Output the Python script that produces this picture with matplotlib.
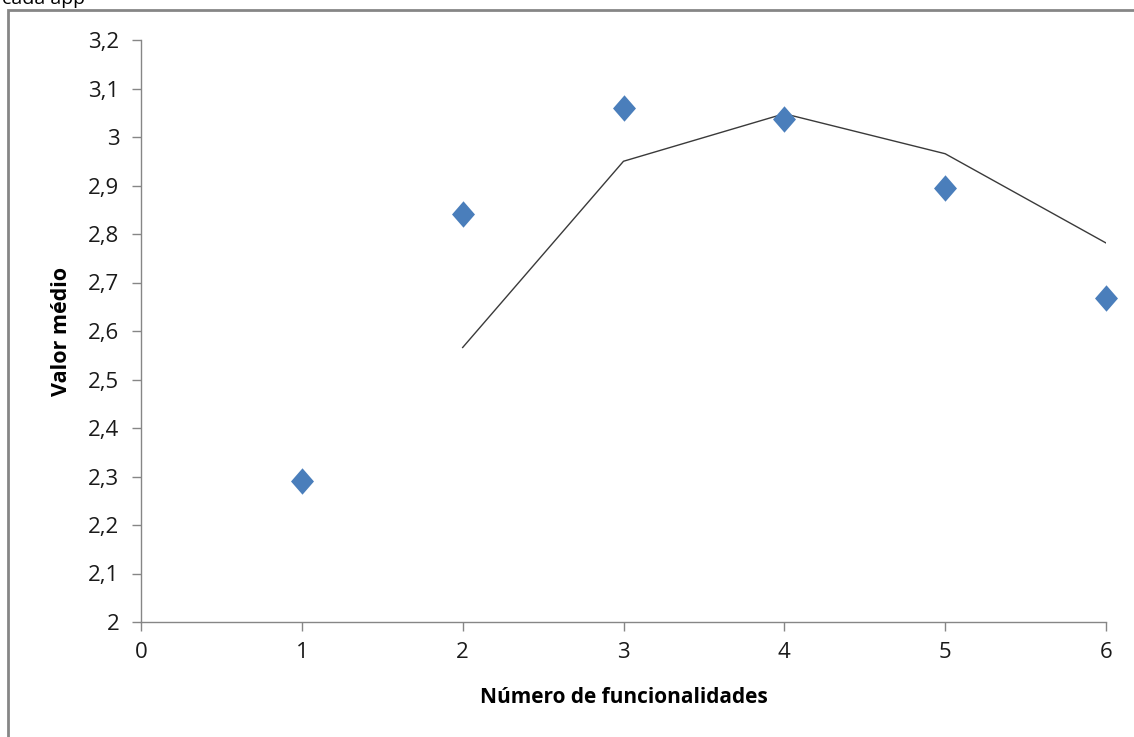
import numpy as np
import matplotlib.pyplot as plt
from matplotlib.ticker import FuncFormatter, MultipleLocator
from matplotlib.patches import Rectangle

# número de funcionalidades vs valor médio
n_func = [1, 2, 3, 4, 5, 6]
valor_medio = [2.291, 2.841, 3.059, 3.037, 2.894, 2.669]

# média móvel de 2 períodos
mm_x = n_func[1:]
mm_y = [(a + b) / 2 for a, b in zip(valor_medio[:-1], valor_medio[1:])]

plt.rcParams['font.family'] = ['Open Sans', 'DejaVu Sans']

fig = plt.figure(figsize=(11.34, 7.37), dpi=100)
W, H = 1134, 737

# moldura do gráfico
fig.patches.append(Rectangle((8 / W, -0.05), 1.2, 1.05 - 10 / H, transform=fig.transFigure,
                             fill=False, edgecolor='#868686', lw=2))
fig.text(2 / W, 1 + 1 / H, "cada app", fontsize=14, va='center', ha='left', color='black')

ax = fig.add_axes([141 / W, (H - 622) / H, (1106 - 141) / W, (622 - 40) / H])

# losango ligeiramente mais alto que largo
losango = [(0, 1), (0.87, 0), (0, -1), (-0.87, 0), (0, 1)]

ax.plot(mm_x, mm_y, color='#3a3a3a', lw=1.0, zorder=2)
ax.plot(n_func, valor_medio, linestyle='none', marker=losango, markersize=19,
        color='#4a7ebb', markeredgewidth=0, zorder=3, clip_on=False)

ax.set_xlim(0, 6)
ax.set_ylim(2, 3.2)
ax.xaxis.set_major_locator(MultipleLocator(1))
ax.yaxis.set_major_locator(MultipleLocator(0.1))


def virgula(v, pos):
    s = f"{v:.1f}".rstrip('0').rstrip('.')
    return s.replace('.', ',')


ax.yaxis.set_major_formatter(FuncFormatter(virgula))

for side in ['top', 'right']:
    ax.spines[side].set_visible(False)
for side in ['left', 'bottom']:
    ax.spines[side].set_color('#868686')
    ax.spines[side].set_linewidth(1.0)

ax.tick_params(axis='both', direction='out', length=6.5, width=1, color='#868686',
               labelsize=16, labelcolor='#1a1a1a')
ax.tick_params(axis='y', pad=9)
ax.tick_params(axis='x', pad=8)

ax.set_xlabel("Número de funcionalidades", fontsize=15, fontweight='bold', labelpad=17)
ax.set_ylabel("Valor médio", fontsize=15.5, fontweight='bold', labelpad=12)

fig.savefig("out.png", dpi=100)
